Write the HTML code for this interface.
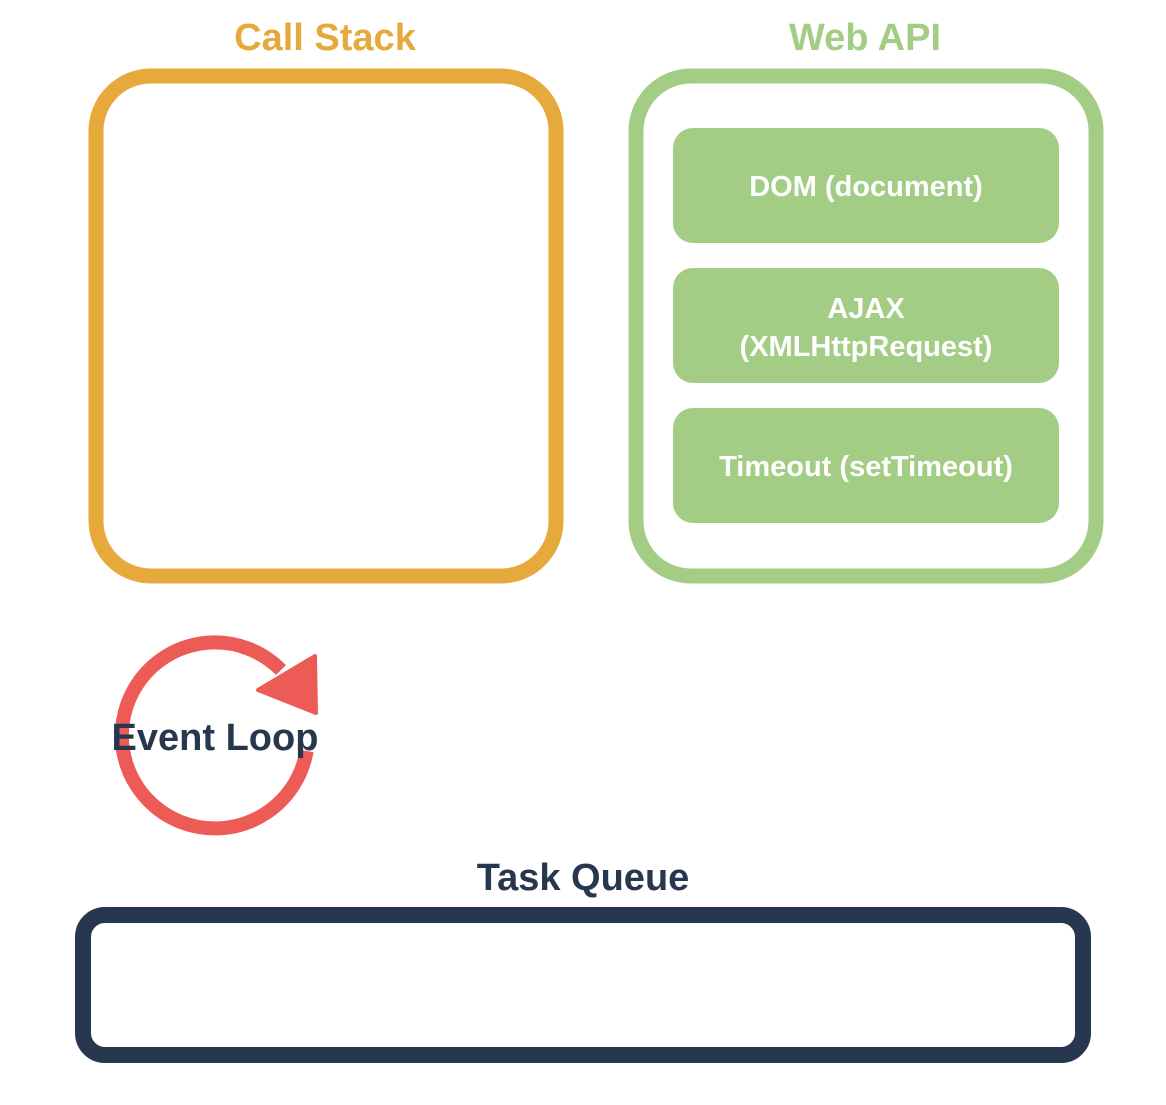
<!DOCTYPE html>
<html><head><meta charset="utf-8"><style>
body{margin:0;background:#fff;width:1166px;height:1100px;overflow:hidden}
</style></head><body>
<svg width="1166" height="1100" xmlns="http://www.w3.org/2000/svg" font-family="Liberation Sans, sans-serif" font-weight="bold">
<text x="325" y="50" font-size="38" fill="#e8a93c" text-anchor="middle">Call Stack</text>
<text x="865" y="50" font-size="38" fill="#a3cc84" text-anchor="middle">Web API</text>
<rect x="96" y="76" width="460" height="500" rx="55" fill="none" stroke="#e8a93c" stroke-width="15"/>
<rect x="636" y="76" width="460" height="500" rx="55" fill="none" stroke="#a3cc84" stroke-width="15"/>
<rect x="673" y="128" width="386" height="115" rx="20" fill="#a3cc84"/>
<rect x="673" y="268" width="386" height="115" rx="20" fill="#a3cc84"/>
<rect x="673" y="408" width="386" height="115" rx="20" fill="#a3cc84"/>
<g fill="#fff" font-size="29" text-anchor="middle">
<text x="866" y="196">DOM (document)</text>
<text x="866" y="318">AJAX</text>
<text x="866" y="356">(XMLHttpRequest)</text>
<text x="866" y="476">Timeout (setTimeout)</text>
</g>
<path d="M 306.6 751 A 93 93 0 1 1 281 670" fill="none" stroke="#ec5b56" stroke-width="14"/>
<polygon points="258,690 315,656 316,713" fill="#ec5b56" stroke="#ec5b56" stroke-width="4" stroke-linejoin="round"/>
<text x="215" y="750" font-size="38" fill="#283750" text-anchor="middle">Event Loop</text>
<text x="583" y="890" font-size="38" fill="#283750" text-anchor="middle">Task Queue</text>
<rect x="83" y="915" width="1000" height="140" rx="22" fill="none" stroke="#283750" stroke-width="16"/>
</svg>
</body></html>
